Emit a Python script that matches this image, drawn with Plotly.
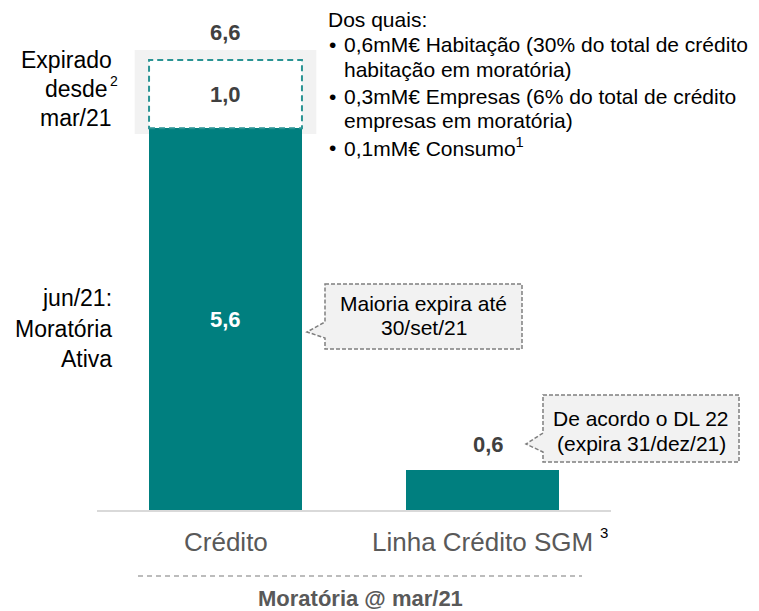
import plotly.graph_objects as go

# ---------------- data ----------------
categories = ["Crédito", "Linha Crédito SGM"]
category_sup = ["", "3"]
active_jun21 = [5.6, 0.6]          # jun/21: moratória ativa
expired_since_mar21 = [1.0, 0.0]   # expirado desde mar/21
totals = [6.6, 0.6]                # moratória @ mar/21

left_labels_top = ["Expirado", "desde", "mar/21"]
left_labels_mid = ["jun/21:", "Moratória", "Ativa"]
detail_title = "Dos quais:"
detail_lines = [
    ("•", "0,6mM€ Habitação (30% do total de crédito"),
    ("", "habitação em moratória)"),
    ("•", "0,3mM€ Empresas (6% do total de crédito"),
    ("", "empresas em moratória)"),
    ("•", "0,1mM€ Consumo<sup>1</sup>"),
]
callout1 = ["Maioria expira até", "30/set/21"]
callout2 = ["De acordo o DL 22", "(expira 31/dez/21)"]
group_title = "Moratória @ mar/21"

# ---------------- styling / geometry ----------------
OFF = 8                      # page offset of the figure (body margin)
PAGE_W, PAGE_H = 759, 611
W, H = PAGE_W - OFF, PAGE_H - OFF
BASE_PAGE = 511              # baseline y on the page
PLOT_H = BASE_PAGE - OFF     # plot area height in figure pixels
PX_PER_UNIT = 68.34
CAT_PX = 257.0
X_MIN = (OFF - 225.5) / CAT_PX
X_MAX = X_MIN + W / CAT_PX
BAR_W = 0.595
TEAL = "#007F7F"
DARK = "#404040"
GREY_TXT = "#595959"
FONT = "Liberation Sans"


def fx(px):
    return (px - OFF) / W


def fy(py):
    return (BASE_PAGE - py) / PLOT_H


def fmt(v):
    return f"{v:.1f}".replace(".", ",")


def ann(**kw):
    kw.setdefault("showarrow", False)
    kw.setdefault("xanchor", "center")
    kw.setdefault("yanchor", "middle")
    return kw


fig = go.Figure()
fig.add_trace(go.Bar(x=categories, y=active_jun21, width=BAR_W,
                     marker=dict(color=TEAL, line=dict(width=0)),
                     name="jun/21: Moratória Ativa", hoverinfo="skip"))
fig.add_trace(go.Bar(x=categories, y=expired_since_mar21, base=active_jun21, width=BAR_W,
                     marker=dict(color="white", line=dict(width=0)),
                     name="Expirado desde mar/21", hoverinfo="skip"))

shapes = []
annotations = []

for i, cat in enumerate(categories):
    a, e, t = active_jun21[i], expired_since_mar21[i], totals[i]
    if e > 0:
        shapes.append(dict(type="rect", xref="x", yref="y", layer="below",
                           x0=i - BAR_W / 2 - 0.056, x1=i + BAR_W / 2 + 0.056,
                           y0=a - 0.083, y1=t + 0.146,
                           fillcolor="#F2F2F2", line=dict(width=0)))
        shapes.append(dict(type="rect", xref="x", yref="y", layer="above",
                           x0=i - BAR_W / 2, x1=i + BAR_W / 2, y0=a, y1=a + e,
                           fillcolor="rgba(0,0,0,0)",
                           line=dict(color="#2A9494", width=2, dash="6px,4px")))
        annotations.append(ann(x=cat, y=a + e / 2, xref="x", yref="y",
                               text=f"<b>{fmt(e)}</b>",
                               font=dict(size=22, color=DARK, family=FONT)))
        annotations.append(ann(x=cat, y=a / 2, xref="x", yref="y",
                               text=f"<b>{fmt(a)}</b>",
                               font=dict(size=22, color="white", family=FONT)))
        annotations.append(ann(x=cat, y=t, xref="x", yref="y", yshift=27,
                               text=f"<b>{fmt(t)}</b>",
                               font=dict(size=22, color=DARK, family=FONT)))
    else:
        annotations.append(ann(x=cat, y=t, xref="x", yref="y", yshift=26, xshift=6,
                               text=f"<b>{fmt(t)}</b>",
                               font=dict(size=22, color=DARK, family=FONT)))
    annotations.append(ann(x=cat, y=fy(542), xref="x", yref="paper", text=cat,
                           font=dict(size=26, color=GREY_TXT, family=FONT)))
    if category_sup[i]:
        annotations.append(ann(x=cat, y=fy(532), xref="x", yref="paper",
                               xanchor="left", xshift=115, text=category_sup[i],
                               font=dict(size=15, color="black", family=FONT)))

# baseline
shapes.append(dict(type="line", xref="paper", yref="paper",
                   x0=fx(97), x1=fx(611), y0=fy(511), y1=fy(511),
                   line=dict(color="#D9D9D9", width=2)))
# group dashed separator
shapes.append(dict(type="line", xref="paper", yref="paper",
                   x0=fx(138), x1=fx(582), y0=fy(576), y1=fy(576),
                   line=dict(color="#A6A6A6", width=1.5, dash="5px,4px")))
annotations.append(ann(x=fx(360), y=fy(598), xref="paper", yref="paper",
                       text=f"<b>{group_title}</b>",
                       font=dict(size=22, color=GREY_TXT, family=FONT)))

# left labels
for txt, py in zip(left_labels_top, [60, 89, 118]):
    if txt == "desde":
        annotations.append(ann(x=fx(110), y=fy(py), xref="paper", yref="paper",
                               xanchor="right", text=txt,
                               font=dict(size=23, color="black", family=FONT)))
        annotations.append(ann(x=fx(108), y=fy(py - 8), xref="paper", yref="paper",
                               xanchor="left", text="2",
                               font=dict(size=14, color="black", family=FONT)))
    else:
        annotations.append(ann(x=fx(114), y=fy(py), xref="paper", yref="paper",
                               xanchor="right", text=txt,
                               font=dict(size=23, color="black", family=FONT)))
for txt, py in zip(left_labels_mid, [298, 329, 359]):
    annotations.append(ann(x=fx(114), y=fy(py), xref="paper", yref="paper",
                           xanchor="right", text=txt,
                           font=dict(size=23, color="black", family=FONT)))

# right detail block
annotations.append(ann(x=fx(326), y=fy(20), xref="paper", yref="paper",
                       xanchor="left", text=detail_title,
                       font=dict(size=21, color="black", family=FONT)))
for (bullet, txt), py in zip(detail_lines, [44, 69, 96, 121, 147]):
    if bullet:
        annotations.append(ann(x=fx(327), y=fy(py), xref="paper", yref="paper",
                               xanchor="left", text=bullet,
                               font=dict(size=21, color="black", family=FONT)))
    annotations.append(ann(x=fx(342), y=fy(py), xref="paper", yref="paper",
                           xanchor="left", text=txt,
                           font=dict(size=21, color="black", family=FONT)))


# callouts
def callout(box, ptr, lines, line_ys):
    x0, y0, x1, y1 = box
    (ya, tipx, tipy, yb) = ptr
    pts = [(x0, y0), (x1, y0), (x1, y1), (x0, y1), (x0, yb), (tipx, tipy), (x0, ya)]
    path = "M " + " L ".join(f"{fx(px):.5f},{fy(py):.5f}" for px, py in pts) + " Z"
    shapes.append(dict(type="path", xref="paper", yref="paper", path=path, layer="above",
                       fillcolor="#F2F2F2",
                       line=dict(color="#7F7F7F", width=1.5, dash="4px,2px")))
    cx = (x0 + x1) / 2
    for txt, py in zip(lines, line_ys):
        annotations.append(ann(x=fx(cx), y=fy(py), xref="paper", yref="paper", text=txt,
                               font=dict(size=21, color="black", family=FONT)))


callout((325, 284, 522, 349), (322, 307, 332, 338), callout1, [303, 327])
callout((543, 395, 739, 462), (433, 526, 444, 452), callout2, [418, 443])

fig.update_layout(
    width=W, height=H,
    margin=dict(l=0, r=0, t=0, b=H - PLOT_H, pad=0),
    paper_bgcolor="white", plot_bgcolor="white",
    barmode="overlay", showlegend=False, bargap=0,
    xaxis=dict(type="category", range=[X_MIN, X_MAX], showticklabels=False,
               showgrid=False, zeroline=False, showline=False, ticks="", fixedrange=True),
    yaxis=dict(range=[0, PLOT_H / PX_PER_UNIT], visible=False, showgrid=False,
               zeroline=False, fixedrange=True),
    shapes=shapes, annotations=annotations,
    font=dict(family=FONT),
)

fig.write_html("out.html", config={"displayModeBar": False})
